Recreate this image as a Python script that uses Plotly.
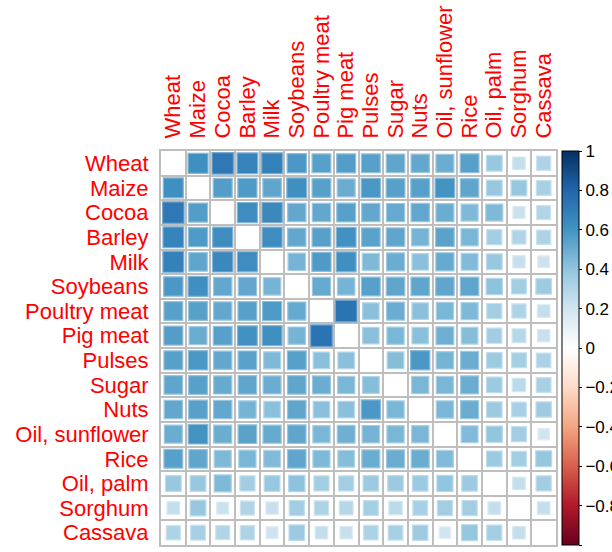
import numpy as np
import plotly.graph_objects as go

labels = ["Wheat", "Maize", "Cocoa", "Barley", "Milk", "Soybeans", "Poultry meat",
          "Pig meat", "Pulses", "Sugar", "Nuts", "Oil, sunflower", "Rice",
          "Oil, palm", "Sorghum", "Cassava"]

# correlation of each item with the items that follow it in `labels`
wheat = [0.62, 0.72, 0.67, 0.68, 0.58, 0.55, 0.56, 0.55, 0.53, 0.52, 0.50, 0.55, 0.38, 0.24, 0.31]
maize = [0.56, 0.57, 0.53, 0.62, 0.55, 0.50, 0.58, 0.55, 0.55, 0.60, 0.53, 0.38, 0.38, 0.33]
cocoa = [0.63, 0.65, 0.52, 0.52, 0.55, 0.52, 0.51, 0.52, 0.50, 0.45, 0.45, 0.22, 0.30]
barley = [0.63, 0.52, 0.55, 0.61, 0.54, 0.53, 0.47, 0.54, 0.46, 0.35, 0.30, 0.31]
milk = [0.47, 0.57, 0.62, 0.45, 0.50, 0.42, 0.51, 0.44, 0.38, 0.23, 0.21]
soybeans = [0.51, 0.47, 0.55, 0.53, 0.53, 0.53, 0.53, 0.41, 0.35, 0.37]
poultry_meat = [0.74, 0.42, 0.50, 0.42, 0.46, 0.45, 0.35, 0.31, 0.24]
pig_meat = [0.42, 0.46, 0.42, 0.49, 0.43, 0.35, 0.29, 0.23]
pulses = [0.43, 0.58, 0.47, 0.50, 0.37, 0.34, 0.32]
sugar = [0.46, 0.46, 0.50, 0.37, 0.27, 0.33]
nuts = [0.46, 0.50, 0.37, 0.33, 0.36]
oil_sunflower = [0.44, 0.40, 0.35, 0.20]
rice = [0.37, 0.35, 0.39]
oil_palm = [0.24, 0.35]
sorghum = [0.24]

upper_rows = [wheat, maize, cocoa, barley, milk, soybeans, poultry_meat, pig_meat,
              pulses, sugar, nuts, oil_sunflower, rice, oil_palm, sorghum]

colorbar_ticks = [-1, -0.8, -0.6, -0.4, -0.2, 0, 0.2, 0.4, 0.6, 0.8, 1]

rdbu = ["#67001F", "#B2182B", "#D6604D", "#F4A582", "#FDDBC7", "#FFFFFF",
        "#D1E5F0", "#92C5DE", "#4393C3", "#2166AC", "#053061"]

n = len(labels)
M = np.full((n, n), np.nan)
for i, row in enumerate(upper_rows):
    for k, v in enumerate(row):
        j = i + 1 + k
        M[i, j] = v
        M[j, i] = v

xs, ys, vs = [], [], []
for i in range(n):
    for j in range(n):
        if not np.isnan(M[i, j]):
            xs.append(j)
            ys.append(i)
            vs.append(M[i, j])
vs = np.array(vs)

# layout geometry
W, H = 612, 552
ml, mr, mt, mb = 161, 56, 151, 7
cell = (W - ml - mr) / n

def hex2rgb(h):
    h = h.lstrip("#")
    return np.array([int(h[k:k + 2], 16) for k in (0, 2, 4)], dtype=float)

stops = np.linspace(-1, 1, len(rdbu))
rgbs = np.array([hex2rgb(c) for c in rdbu])

def light(v):
    c = np.array([np.interp(v, stops, rgbs[:, k]) for k in range(3)])
    c = c + (255 - c) * 0.35
    return "rgb(%d,%d,%d)" % tuple(c.round())

sizes = cell * np.sqrt(np.abs(vs)) + 0.5
line_cols = [light(v) for v in vs]

colorscale = [[k / (len(rdbu) - 1), c] for k, c in enumerate(rdbu)]

fig = go.Figure()
fig.add_trace(go.Scatter(
    x=xs, y=ys, mode="markers",
    marker=dict(
        symbol="square", size=sizes, color=vs, colorscale=colorscale,
        cmin=-1, cmax=1, opacity=1,
        line=dict(color=line_cols, width=1.2),
        colorbar=dict(
            x=1.0152, xanchor="left", xpad=0, y=0.5, yanchor="middle",
            len=1.0, lenmode="fraction", ypad=0, thickness=17,
            outlinecolor="black", outlinewidth=1,
            tickvals=colorbar_ticks, ticks="outside", ticklen=3,
            tickcolor="black",
            tickfont=dict(family="Liberation Sans, Arial", size=17, color="black"),
        ),
    ),
    hoverinfo="skip",
    showlegend=False,
))

half = [k - 0.5 for k in range(n + 1)]
axis_common = dict(
    showgrid=False, zeroline=False, ticks="", automargin=False,
    tickfont=dict(family="Liberation Sans, Arial", size=22, color="red"),
    minor=dict(tickvals=half, showgrid=True, gridcolor="#BEBEBE", gridwidth=2, ticks=""),
    showline=True, mirror=True, linecolor="#BEBEBE", linewidth=2,
    tickmode="array", tickvals=list(range(n)), ticktext=labels,
    ticklabelstandoff=6,
)

fig.update_layout(
    width=W, height=H,
    margin=dict(l=ml, r=mr, t=mt, b=mb, autoexpand=False),
    paper_bgcolor="white", plot_bgcolor="white",
    xaxis=dict(range=[-0.5, n - 0.5], side="top", tickangle=-90, **axis_common),
    yaxis=dict(range=[n - 0.5, -0.5], **axis_common),
)

fig.write_html("out.html", config={"displayModeBar": False},
               post_script="document.body.style.margin='0';")
